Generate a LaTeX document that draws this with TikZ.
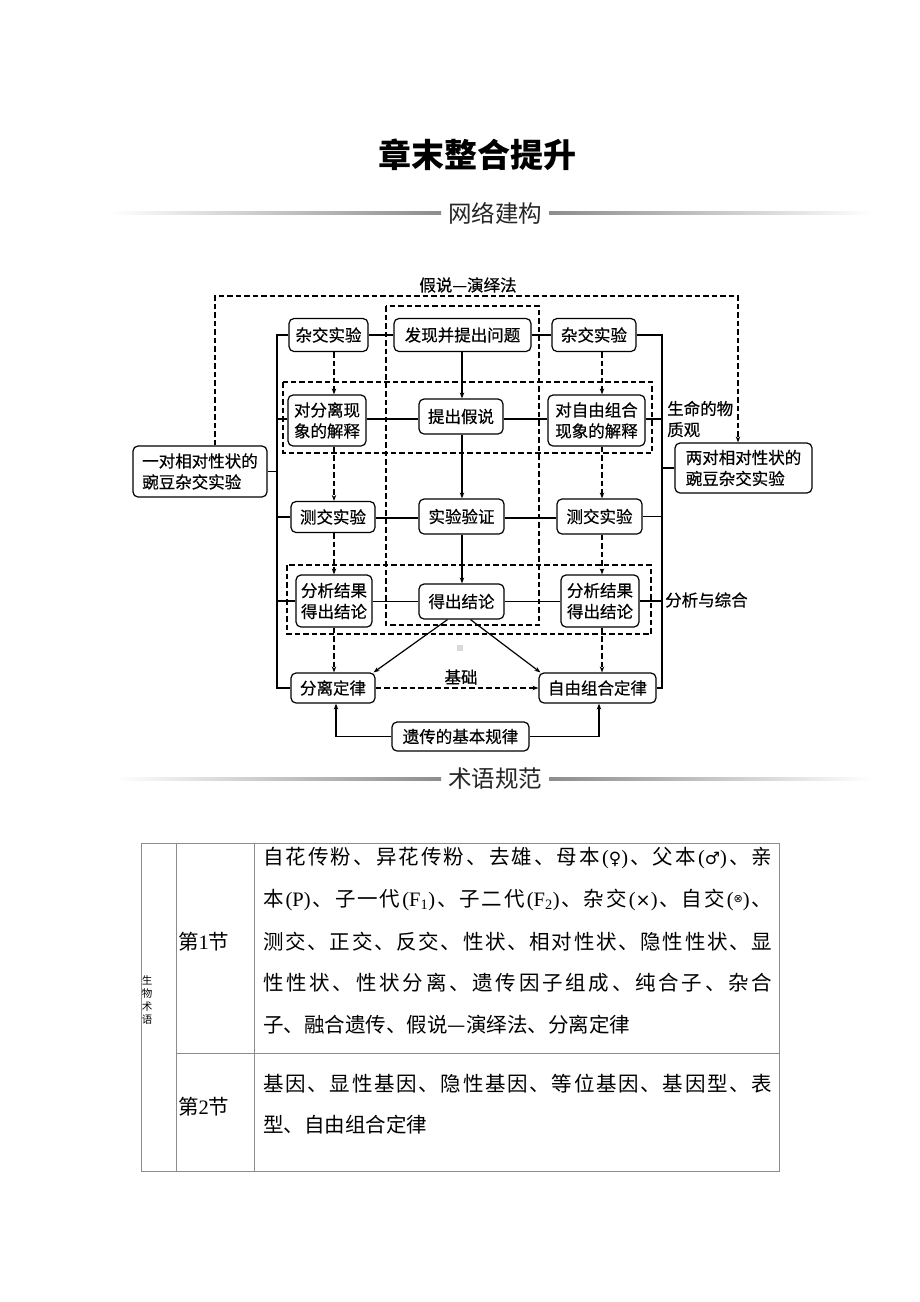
\documentclass[tikz,border=0pt]{standalone}
\usepackage{fontspec}
\setmainfont{Noto Sans CJK SC}
\newfontfamily\nf{Noto Sans CJK SC}[FakeBold=0.5]
\newfontfamily\lat{Liberation Serif}
\newfontfamily\sym{DejaVu Sans}
\usetikzlibrary{arrows.meta,calc}
\newlength\jw
\setlength\jw{509pt}
\def\jlend{}
\def\jlendtest{\jlend}
\def\jline#1{\hbox to \jw{\jlfirst#1\jlend}}
\def\jlfirst#1{{#1}\jlnext}
\def\jlnext#1{\def\jltmp{#1}\ifx\jltmp\jlendtest\else\hfil{#1}\expandafter\jlnext\fi}
\newcommand\PX[2]{{\lat(}{\sym\fontsize{#1}{#1}\selectfont #2}{\lat)}}
\newcommand\tf{\fontsize{20.5}{20.5}\selectfont}
\tikzset{
  box/.style={draw, line width=1.2pt, rounded corners=5pt, inner sep=0pt,
    font=\nf\fontsize{16.5}{21}\selectfont, align=center},
  lbl/.style={inner sep=0pt, font=\nf\fontsize{16.5}{21}\selectfont},
  dsh/.style={dash pattern=on 5.5pt off 3pt, line width=1.3pt},
  ln/.style={line width=1.2pt},
  arr/.style={-{Stealth[length=6pt,width=4.5pt]}},
  tline/.style={draw=black!45, line width=0.9pt},
  tx/.style={inner sep=0pt, anchor=west, font=\tf},
}
\begin{document}
\begin{tikzpicture}[x=1pt,y=-1pt]
\useasboundingbox[fill=white] (0,0) rectangle (920,1302);

% title and headers
\node[inner sep=0pt, font=\fontsize{33}{33}\selectfont\bfseries] (title) at (477,155) {章末整合提升};
\node[inner sep=0pt, font=\fontsize{23.5}{23.5}\selectfont, text=black!85] (h1) at (495,213) {网络建构};
\shade[left color=white, right color=black!45] (110,211.5) rectangle (441,214.5);
\shade[left color=black!45, right color=white] (549,211.5) rectangle (872,214.5);
\node[inner sep=0pt, font=\fontsize{23.5}{23.5}\selectfont, text=black!85] (h2) at (495,779) {术语规范};
\shade[left color=white, right color=black!45] (115,777.5) rectangle (441,780.5);
\shade[left color=black!45, right color=white] (549,777.5) rectangle (872,780.5);

% dashed frames
\draw[dsh] (386,306) rectangle (539,625);
\draw[dsh] (283,382) rectangle (652,453);
\draw[dsh] (287,565) rectangle (651,634);

% nodes
\node[box, minimum width=79pt, minimum height=33pt] (zjL) at (328.5,335) {杂交实验};
\node[box, minimum width=137pt, minimum height=33pt] (fx) at (462.5,335) {发现并提出问题};
\node[box, minimum width=84pt, minimum height=33pt] (zjR) at (594,335) {杂交实验};
\node[box, minimum width=78pt, minimum height=51pt] (dfL) at (327,420.5) {对分离现\\象的解释};
\node[box, minimum width=84pt, minimum height=35pt] (tj) at (461,416.5) {提出假说};
\node[box, minimum width=97pt, minimum height=51pt] (dzR) at (596.5,420.5) {对自由组合\\现象的解释};
\node[box, minimum width=134pt, minimum height=51pt, align=left] (yd) at (200,471.5) {一对相对性状的\\豌豆杂交实验};
\node[box, minimum width=137pt, minimum height=50pt, align=left] (ld) at (743.5,468) {两对相对性状的\\豌豆杂交实验};
\node[box, minimum width=84pt, minimum height=31pt] (cjL) at (333,517) {测交实验};
\node[box, minimum width=85pt, minimum height=35pt] (sy) at (461.5,516.5) {实验验证};
\node[box, minimum width=85pt, minimum height=35pt] (cjR) at (599.5,516.5) {测交实验};
\node[box, minimum width=76pt, minimum height=52pt] (fxL) at (334,601) {分析结果\\得出结论};
\node[box, minimum width=85pt, minimum height=35pt] (dc) at (461.5,601.5) {得出结论};
\node[box, minimum width=78pt, minimum height=52pt] (fxR) at (600,601) {分析结果\\得出结论};
\node[box, minimum width=84pt, minimum height=30pt] (fl) at (333,688) {分离定律};
\node[box, minimum width=117pt, minimum height=30pt] (zy) at (597.5,688) {自由组合定律};
\node[box, minimum width=137pt, minimum height=29pt] (yc) at (460.5,736.5) {遗传的基本规律};

% labels
\node[lbl] (hs) at (468,285) {假说—演绎法};
\node[lbl, anchor=west, align=left] (sm) at (667,419) {生命的物\\质观};
\node[lbl, anchor=west] (fz) at (665,600) {分析与综合};
\node[lbl] (jc) at (461,677) {基础};
\fill[black!15] (457,645) rectangle (463,651);

% helper coordinates
\coordinate (tL) at (277,0);
\coordinate (tR) at (662,0);
\coordinate (cL) at (334,0);
\coordinate (cC) at (462,0);
\coordinate (cR) at (602,0);
\coordinate (r2) at (0,419);
\coordinate (r3) at (0,518);
\coordinate (r4) at (0,601.5);
\coordinate (oL) at (215,296);
\coordinate (oR) at (738,296);

% outer dashed connector
\draw[dsh,arr] (oL |- yd.north) -- (oL) -- (oR) -- (oR |- ld.north);

% trunks
\draw[ln] (zjL.west) -- (zjL.west -| tL) -- (fl.west -| tL) -- (fl.west);
\draw[ln] (dfL.west |- r2) -- (tL |- r2);
\draw[ln] (cjL.west) -- (cjL.west -| tL);
\draw[ln] (fxL.west) -- (fxL.west -| tL);
\draw[ln] (yd.east) -- (yd.east -| tL);
\draw[ln] (zjR.east) -- (zjR.east -| tR) -- (zy.east -| tR) -- (zy.east);
\draw[ln] (dzR.east |- r2) -- (tR |- r2);
\draw[ln] (cjR.east) -- (cjR.east -| tR);
\draw[ln] (fxR.east) -- (fxR.east -| tR);
\draw[ln] (ld.west) -- (ld.west -| tR);

% row lines
\draw[ln] (zjL.east) -- (fx.west);
\draw[ln] (fx.east) -- (zjR.west);
\draw[ln] (dfL.east |- r2) -- (tj.west |- r2);
\draw[ln] (tj.east |- r2) -- (dzR.west |- r2);
\draw[ln] (cjL.east |- r3) -- (sy.west |- r3);
\draw[ln] (sy.east |- r3) -- (cjR.west |- r3);
\draw[ln] (fxL.east |- r4) -- (dc.west |- r4);
\draw[ln] (dc.east |- r4) -- (fxR.west |- r4);

% centre arrows
\draw[ln,arr] (fx.south -| cC) -- (tj.north -| cC);
\draw[ln,arr] (tj.south -| cC) -- (sy.north -| cC);
\draw[ln,arr] (sy.south -| cC) -- (dc.north -| cC);

% left dashed arrows
\draw[dsh,arr] (zjL.south -| cL) -- (dfL.north -| cL);
\draw[dsh,arr] (dfL.south -| cL) -- (cjL.north -| cL);
\draw[dsh,arr] (cjL.south -| cL) -- (fxL.north -| cL);
\draw[dsh,arr] (fxL.south -| cL) -- (fl.north -| cL);
% right dashed arrows
\draw[dsh,arr] (zjR.south -| cR) -- (dzR.north -| cR);
\draw[dsh,arr] (dzR.south -| cR) -- (cjR.north -| cR);
\draw[dsh,arr] (cjR.south -| cR) -- (fxR.north -| cR);
\draw[dsh,arr] (fxR.south -| cR) -- (zy.north -| cR);

% diagonals
\draw[ln,arr] ([xshift=-14pt]dc.south) -- ([xshift=-2pt]fl.north east);
\draw[ln,arr] ([xshift=9pt]dc.south) -- ([xshift=2pt]zy.north west);
\draw[dsh,arr] (fl.east) -- (zy.west);
\draw[ln,arr] (yc.west) -| ([xshift=3pt]fl.south);
\draw[ln,arr] (yc.east) -| ([xshift=1.5pt]zy.south);

% table
\draw[tline] (141,843) rectangle (779,1171);
\draw[tline] (176,843) -- (176,1171);
\draw[tline] (254,843) -- (254,1171);
\draw[tline] (176,1053) -- (779,1053);
\node[inner sep=0pt, align=center, font=\fontsize{10.5}{13.3}\selectfont] (sw) at (147,1000) {生\\物\\术\\语};
\node[tx] (j1) at (178,942) {第{\lat 1}节};
\node[tx] (j2) at (178,1107) {第{\lat 2}节};
\node[tx] (a1) at (263,858) {\jline{自花传粉、异花传粉、去雄、母本{\PX{17}{♀}}、父本{\PX{17}{♂}}、亲}};
\node[tx] (a2) at (263,900) {\jline{本{\lat(P)}、子一代{\lat(F\textsubscript{1})}、子二代{\lat(F\textsubscript{2})}、杂交{\PX{18}{×}}、自交{{\lat(}\raisebox{0.2em}{\sym\fontsize{11}{11}\selectfont ⊗}{\lat)}}、}};
\node[tx] (a3) at (263,942) {\jline{测交、正交、反交、性状、相对性状、隐性性状、显}};
\node[tx] (a4) at (263,983) {\jline{性性状、性状分离、遗传因子组成、纯合子、杂合}};
\node[tx] (a5) at (263,1025) {子、融合遗传、假说—演绎法、分离定律};
\node[tx] (b1) at (263,1084) {\jline{基因、显性基因、隐性基因、等位基因、基因型、表}};
\node[tx] (b2) at (263,1125) {型、自由组合定律};
\end{tikzpicture}
\end{document}
